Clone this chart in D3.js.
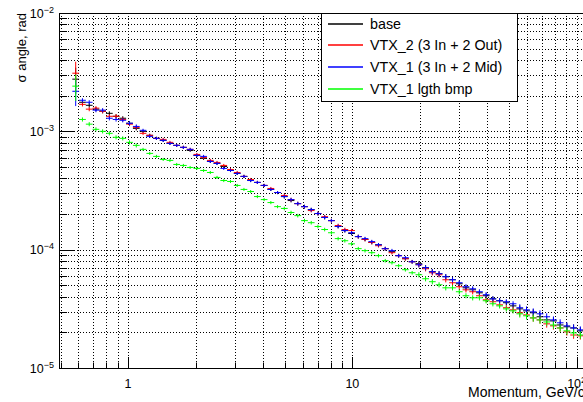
<!DOCTYPE html>
<html>
<head>
<meta charset="utf-8">
<script src="https://cdn.jsdelivr.net/npm/d3@7"></script>
<style>
  html, body { margin: 0; padding: 0; background: #fff; }
  svg { display: block; font-family: "Liberation Sans", Arial, Helvetica, sans-serif; }
</style>
</head>
<body>
<svg id="chart" width="583" height="402"></svg>
<script>
// Momentum bin centres, GeV/c
const momentum = [0.584,0.626,0.671,0.719,0.770,0.825,0.884,0.947,1.015,1.088,1.166,1.249,1.338,1.434,1.537,1.647,1.764,1.891,2.026,2.171,2.326,2.492,2.671,2.862,3.066,3.286,3.521,3.772,4.042,4.331,4.641,4.973,5.329,5.710,6.118,6.556,7.025,7.527,8.066,8.643,9.260,9.923,10.63,11.39,12.21,13.08,14.02,15.02,16.09,17.24,18.48,19.80,21.21,22.73,24.36,26.10,27.97,29.97,32.11,34.41,36.87,39.50,42.33,45.36,48.60,52.08,55.80,59.80,64.07,68.65,73.56,78.83,84.47,90.51,96.94,103.9];

// Angular resolution, rad
const sigmaBase = [2.76e-3,1.76e-3,1.66e-3,1.54e-3,1.48e-3,1.42e-3,1.34e-3,1.29e-3,1.17e-3,1.06e-3,
  1.00e-3,9.25e-4,8.72e-4,8.39e-4,7.91e-4,7.61e-4,7.32e-4,6.90e-4,6.26e-4,5.91e-4,
  5.57e-4,5.36e-4,5.05e-4,4.67e-4,4.41e-4,4.16e-4,3.84e-4,3.70e-4,3.49e-4,3.23e-4,
  3.04e-4,2.81e-4,2.60e-4,2.45e-4,2.31e-4,2.18e-4,2.02e-4,1.87e-4,1.76e-4,1.57e-4,
  1.45e-4,1.37e-4,1.29e-4,1.22e-4,1.15e-4,1.10e-4,1.02e-4,9.62e-5,8.90e-5,8.39e-5,
  7.91e-5,7.61e-5,7.04e-5,6.51e-5,6.26e-5,5.91e-5,5.57e-5,5.15e-5,4.76e-5,4.58e-5,
  4.32e-5,4.08e-5,3.84e-5,3.70e-5,3.56e-5,3.35e-5,3.16e-5,3.04e-5,2.93e-5,2.71e-5,
  2.55e-5,2.50e-5,2.31e-5,2.23e-5,2.18e-5,2.06e-5];

const sigmaVtx2 = [3.10e-3,1.69e-3,1.54e-3,1.57e-3,1.48e-3,1.34e-3,1.34e-3,1.26e-3,1.15e-3,1.08e-3,
  9.62e-4,9.25e-4,8.72e-4,8.55e-4,8.07e-4,7.61e-4,7.32e-4,7.04e-4,6.38e-4,6.02e-4,
  5.68e-4,5.46e-4,5.15e-4,4.76e-4,4.49e-4,4.16e-4,3.92e-4,3.70e-4,3.49e-4,3.29e-4,
  3.04e-4,2.87e-4,2.65e-4,2.45e-4,2.31e-4,2.14e-4,2.02e-4,1.90e-4,1.76e-4,1.60e-4,
  1.48e-4,1.45e-4,1.29e-4,1.22e-4,1.15e-4,1.08e-4,1.02e-4,9.43e-5,8.90e-5,8.39e-5,
  7.91e-5,7.46e-5,6.90e-5,6.38e-5,6.14e-5,5.57e-5,5.25e-5,4.86e-5,4.58e-5,4.41e-5,
  4.08e-5,3.77e-5,3.63e-5,3.42e-5,3.23e-5,3.10e-5,2.93e-5,2.81e-5,2.65e-5,2.55e-5,
  2.36e-5,2.27e-5,2.18e-5,2.02e-5,1.90e-5,1.87e-5];

const sigmaVtx1 = [2.18e-3,1.83e-3,1.76e-3,1.51e-3,1.51e-3,1.29e-3,1.26e-3,1.24e-3,1.17e-3,1.10e-3,
  1.02e-3,9.07e-4,8.72e-4,8.39e-4,7.91e-4,7.61e-4,7.32e-4,7.04e-4,6.26e-4,6.14e-4,
  5.57e-4,5.36e-4,4.86e-4,4.67e-4,4.41e-4,4.16e-4,3.84e-4,3.70e-4,3.49e-4,3.23e-4,
  3.04e-4,2.81e-4,2.65e-4,2.45e-4,2.31e-4,2.18e-4,2.02e-4,1.87e-4,1.76e-4,1.57e-4,
  1.45e-4,1.39e-4,1.29e-4,1.24e-4,1.17e-4,1.10e-4,1.02e-4,9.81e-5,8.90e-5,8.55e-5,
  7.91e-5,7.46e-5,7.04e-5,6.51e-5,6.26e-5,5.91e-5,5.57e-5,5.25e-5,4.86e-5,4.67e-5,
  4.41e-5,4.16e-5,3.84e-5,3.70e-5,3.63e-5,3.49e-5,3.23e-5,3.10e-5,2.98e-5,2.87e-5,
  2.71e-5,2.55e-5,2.41e-5,2.27e-5,2.18e-5,2.10e-5];

const sigmaVtx1Bmp = [2.41e-3,1.26e-3,1.15e-3,1.04e-3,1.00e-3,9.62e-4,8.90e-4,8.72e-4,8.07e-4,7.61e-4,
  7.04e-4,6.51e-4,6.14e-4,5.79e-4,5.68e-4,5.25e-4,5.15e-4,4.95e-4,4.86e-4,4.67e-4,
  4.49e-4,4.08e-4,3.84e-4,3.77e-4,3.49e-4,3.23e-4,3.10e-4,2.81e-4,2.65e-4,2.50e-4,
  2.31e-4,2.23e-4,2.06e-4,1.94e-4,1.76e-4,1.69e-4,1.57e-4,1.48e-4,1.39e-4,1.24e-4,
  1.19e-4,1.12e-4,1.02e-4,9.81e-5,9.43e-5,8.90e-5,8.07e-5,7.76e-5,7.32e-5,6.77e-5,
  6.38e-5,6.14e-5,5.68e-5,5.36e-5,5.05e-5,4.76e-5,4.76e-5,4.41e-5,4.08e-5,3.92e-5,
  3.92e-5,3.70e-5,3.49e-5,3.35e-5,3.16e-5,3.04e-5,2.87e-5,2.76e-5,2.65e-5,2.55e-5,
  2.45e-5,2.31e-5,2.18e-5,2.06e-5,1.98e-5,1.90e-5];

// Relative statistical uncertainty per bin
const relErr = [0.25,0.04,0.04,0.04,0.04,0.04,0.04,0.04,0.04,0.04,
  0.03,0.03,0.03,0.03,0.03,0.03,0.03,0.03,0.03,0.03,
  0.03,0.03,0.03,0.03,0.03,0.03,0.03,0.03,0.03,0.03,
  0.03,0.035,0.035,0.035,0.035,0.035,0.035,0.035,0.035,0.035,
  0.035,0.035,0.035,0.035,0.035,0.035,0.035,0.035,0.035,0.035,
  0.035,0.05,0.05,0.05,0.05,0.05,0.05,0.05,0.05,0.05,
  0.05,0.05,0.05,0.05,0.05,0.05,0.07,0.07,0.07,0.07,
  0.07,0.07,0.07,0.07,0.07,0.07];

const seriesNames = ["base", "VTX_2 (3 In + 2 Out)", "VTX_1 (3 In + 2 Mid)", "VTX_1 lgth bmp"];
const seriesColors = ["#000000", "#ff0000", "#0000ff", "#00ff00"];
const seriesValues = [sigmaBase, sigmaVtx2, sigmaVtx1, sigmaVtx1Bmp];

const xTickLabels = [{v: 1, base: "1", exp: ""}, {v: 10, base: "10", exp: ""}, {v: 100, base: "10", exp: "2"}];
const yTickLabels = [{v: 1e-5, exp: "\u22125"}, {v: 1e-4, exp: "\u22124"}, {v: 1e-3, exp: "\u22123"}, {v: 1e-2, exp: "\u22122"}];

const xTitle = "Momentum, GeV/c";
const yTitle = "\u03c3 angle, rad";

// ---- layout ----
const frame = {left: 59, right: 585, top: 13, bottom: 368};
const svg = d3.select("#chart");

const x = d3.scaleLog().domain([0.492, 109]).range([frame.left, frame.right]);
const y = d3.scaleLog().domain([1e-5, 1e-2]).range([frame.bottom, frame.top]);

svg.append("rect").attr("width", 583).attr("height", 402).attr("fill", "#fff");

const isMajor = v => Math.abs(Math.log10(v) - Math.round(Math.log10(v))) < 1e-9;
const xTicks = x.ticks().filter(v => v >= 0.492 && v <= 109);
const yTicks = y.ticks();

// dotted grid at every tick
const grid = svg.append("g").attr("stroke", "#000").attr("stroke-width", 1)
  .attr("stroke-dasharray", "1,2").attr("fill", "none");
xTicks.forEach(v => {
  const px = Math.round(x(v)) + 0.5;
  grid.append("line").attr("x1", px).attr("x2", px).attr("y1", frame.top).attr("y2", frame.bottom);
});
yTicks.forEach(v => {
  const py = Math.round(y(v)) + 0.5;
  grid.append("line").attr("x1", frame.left).attr("x2", frame.right).attr("y1", py).attr("y2", py);
});

// frame
svg.append("rect")
  .attr("x", frame.left + 0.5).attr("y", frame.top + 0.5)
  .attr("width", frame.right - frame.left).attr("height", frame.bottom - frame.top)
  .attr("fill", "none").attr("stroke", "#000").attr("stroke-width", 1);

// inward ticks
const ticks = svg.append("g").attr("stroke", "#000").attr("stroke-width", 1);
xTicks.forEach(v => {
  const px = Math.round(x(v)) + 0.5;
  const len = isMajor(v) ? 11 : 5.5;
  ticks.append("line").attr("x1", px).attr("x2", px).attr("y1", frame.bottom).attr("y2", frame.bottom - len);
});
yTicks.forEach(v => {
  const py = Math.round(y(v)) + 0.5;
  const len = isMajor(v) ? 16 : 8;
  ticks.append("line").attr("x1", frame.left).attr("x2", frame.left + len).attr("y1", py).attr("y2", py);
});

// tick labels
xTickLabels.forEach(t => {
  const txt = svg.append("text").attr("x", x(t.v)).attr("y", 388)
    .attr("text-anchor", "middle").attr("font-size", 12.5).attr("fill", "#000");
  txt.append("tspan").text(t.base);
  if (t.exp) txt.append("tspan").attr("dy", -5).attr("font-size", 9).text(t.exp);
});
yTickLabels.forEach(t => {
  const txt = svg.append("text").attr("x", 54).attr("y", y(t.v) + 4.5)
    .attr("text-anchor", "end").attr("font-size", 12.5).attr("fill", "#000");
  txt.append("tspan").text("10");
  txt.append("tspan").attr("dy", -5).attr("font-size", 9).text(t.exp);
});

// axis titles
svg.append("text").attr("x", 468).attr("y", 397).attr("font-size", 14).attr("fill", "#000").text(xTitle);
svg.append("text").attr("transform", "translate(26,13) rotate(-90)")
  .attr("text-anchor", "end").attr("font-size", 13).attr("fill", "#000").text(yTitle);

// data: bin-width horizontal bars + vertical error bars
svg.append("clipPath").attr("id", "plotClip").append("rect")
  .attr("x", frame.left).attr("y", frame.top)
  .attr("width", frame.right - frame.left).attr("height", frame.bottom - frame.top);

const n = momentum.length;
const binLo = momentum.map((m, i) => i > 0 ? Math.sqrt(momentum[i - 1] * m) : m / Math.sqrt(momentum[1] / m));
const binHi = momentum.map((m, i) => i < n - 1 ? Math.sqrt(momentum[i + 1] * m) : m * Math.sqrt(m / momentum[n - 2]));

const dataG = svg.append("g").attr("clip-path", "url(#plotClip)");
seriesValues.forEach((vals, s) => {
  const g = dataG.append("g").attr("stroke", seriesColors[s]).attr("stroke-width", 1);
  vals.forEach((v, i) => {
    const cy = y(v);
    g.append("line").attr("x1", x(binLo[i])).attr("x2", x(binHi[i])).attr("y1", cy).attr("y2", cy);
    g.append("line").attr("x1", x(momentum[i])).attr("x2", x(momentum[i]))
      .attr("y1", y(v * (1 + relErr[i]))).attr("y2", y(v * (1 - relErr[i])));
  });
});

// legend
const leg = {x: 321, y: 13, w: 196, h: 88};
svg.append("rect").attr("x", leg.x + 0.5).attr("y", leg.y + 0.5).attr("width", leg.w).attr("height", leg.h)
  .attr("fill", "#fff").attr("stroke", "#000").attr("stroke-width", 1);
const rowY = [24, 45, 67, 89];
seriesNames.forEach((name, i) => {
  svg.append("line").attr("x1", 328).attr("x2", 363).attr("y1", rowY[i]).attr("y2", rowY[i])
    .attr("stroke", seriesColors[i]).attr("stroke-width", 1.6);
  svg.append("text").attr("x", 370).attr("y", rowY[i] + 5).attr("font-size", 14.3)
    .attr("fill", "#000").text(name);
});
</script>
</body>
</html>
